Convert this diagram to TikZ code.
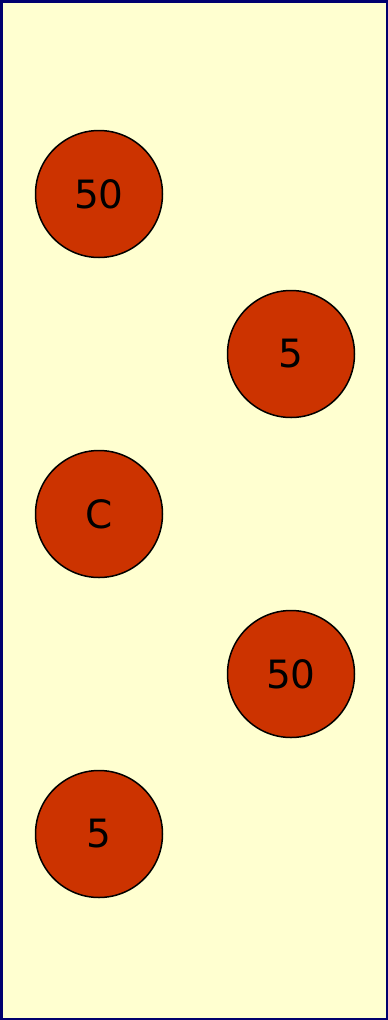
\documentclass[tikz,border=0pt]{standalone}
\usepackage{fontspec}
\setmainfont{DejaVu Sans}
\usetikzlibrary{positioning}
\definecolor{paper}{RGB}{255,255,208}
\definecolor{frame}{RGB}{0,0,110}
\definecolor{coin}{RGB}{204,51,0}

\begin{document}
\begin{tikzpicture}[x=1pt, y=-1pt, thick]
  \tikzstyle{token} = [circle, draw=black, line width=1.5pt, fill=coin, minimum size=127pt, inner sep=0pt, font=\fontsize{39}{44}\selectfont]

  \useasboundingbox (0,0) rectangle (388,1020);
  \draw[frame, line width=2.5pt, fill=paper] (1.25,1.25) rectangle (386.75,1018.75);

  \node[token] (t1) at (99,194) {50};
  \node[token] (t2) at (291,354) {5};
  \node[token] (t3) at (99,514) {C};
  \node[token] (t4) at (291,674) {50};
  \node[token] (t5) at (99,834) {5};

\end{tikzpicture}
\end{document}
